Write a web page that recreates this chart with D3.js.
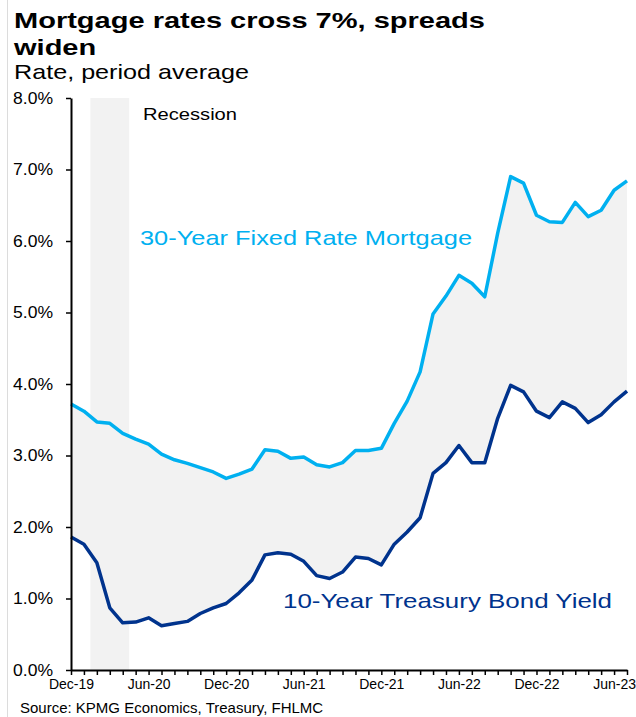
<!DOCTYPE html>
<html>
<head>
<meta charset="utf-8">
<script src="https://cdn.jsdelivr.net/npm/d3@7"></script>
<style>
  html, body { margin: 0; padding: 0; background: #fff; }
  svg { display: block; font-family: "Liberation Sans", Arial, sans-serif; }
</style>
</head>
<body>
<svg id="chart" width="636" height="717"></svg>
<script>
// Monthly periods, Dec 2019 – Jul 2023
const months = [
  "Dec-19","Jan-20","Feb-20","Mar-20","Apr-20","May-20","Jun-20","Jul-20","Aug-20","Sep-20","Oct-20","Nov-20",
  "Dec-20","Jan-21","Feb-21","Mar-21","Apr-21","May-21","Jun-21","Jul-21","Aug-21","Sep-21","Oct-21","Nov-21",
  "Dec-21","Jan-22","Feb-22","Mar-22","Apr-22","May-22","Jun-22","Jul-22","Aug-22","Sep-22","Oct-22","Nov-22",
  "Dec-22","Jan-23","Feb-23","Mar-23","Apr-23","May-23","Jun-23","Jul-23"
];

// 30-year fixed rate mortgage, monthly average (%)
const mortgage30 = [
  3.72, 3.62, 3.47, 3.45, 3.31, 3.23, 3.16, 3.02, 2.94, 2.89, 2.83, 2.77,
  2.68, 2.74, 2.81, 3.08, 3.06, 2.96, 2.98, 2.87, 2.84, 2.90, 3.07, 3.07,
  3.10, 3.45, 3.76, 4.17, 4.98, 5.23, 5.52, 5.41, 5.22, 6.11, 6.90, 6.81,
  6.36, 6.27, 6.26, 6.54, 6.34, 6.43, 6.71, 6.84
];

// 10-year Treasury bond yield, monthly average (%)
const treasury10 = [
  1.86, 1.76, 1.50, 0.87, 0.66, 0.67, 0.73, 0.62, 0.65, 0.68, 0.79, 0.87,
  0.93, 1.08, 1.26, 1.61, 1.64, 1.62, 1.52, 1.32, 1.28, 1.37, 1.58, 1.56,
  1.47, 1.76, 1.93, 2.13, 2.75, 2.90, 3.14, 2.90, 2.90, 3.52, 3.98, 3.89,
  3.62, 3.53, 3.75, 3.66, 3.46, 3.57, 3.75, 3.90
];

const xTickLabels = ["Dec-19","Jun-20","Dec-20","Jun-21","Dec-21","Jun-22","Dec-22","Jun-23"];
const yTicks = [0, 1, 2, 3, 4, 5, 6, 7, 8];
const recession = ["Feb-20", "Apr-20"];

const svg = d3.select("#chart");
const plot = { left: 71, right: 627, top: 98, bottom: 670 };

const x = d3.scalePoint().domain(months).range([plot.left, plot.right]);
const y = d3.scaleLinear().domain([0, 8]).range([plot.bottom, plot.top]);

const rows = months.map((m, i) => ({ m, mort: mortgage30[i], tsy: treasury10[i] }));

// wide text: set its rendered width exactly
function fit(sel, width) {
  return sel.attr("textLength", width).attr("lengthAdjust", "spacingAndGlyphs");
}

// thin frame line on the left edge
svg.append("line")
  .attr("x1", 7.5).attr("x2", 7.5).attr("y1", 0).attr("y2", 717)
  .attr("stroke", "#dcdcdc").attr("stroke-width", 1);

// Titles (bold heading drawn in a horizontally widened face)
const titleLines = ["Mortgage rates cross 7%, spreads", "widen"];
const titleG = svg.append("g");
const t1 = titleG.append("text").attr("x", 0).attr("y", 0)
  .attr("font-size", 22).attr("font-weight", "bold").attr("fill", "#000")
  .text(titleLines[0]);
const widen = 471 / t1.node().getComputedTextLength();
titleG.append("text").attr("x", 0).attr("y", 27)
  .attr("font-size", 22).attr("font-weight", "bold").attr("fill", "#000")
  .text(titleLines[1]);
titleG.attr("transform", `translate(14,28) scale(${widen},1)`);

fit(svg.append("text").attr("x", 14).attr("y", 79)
  .attr("font-size", 21).attr("fill", "#000")
  .text("Rate, period average"), 235);

// Recession shading
const step = x.step();
svg.append("rect")
  .attr("x", x(recession[0]) - step / 2)
  .attr("width", x(recession[1]) - x(recession[0]) + step)
  .attr("y", y(8))
  .attr("height", y(0) - y(8))
  .attr("fill", "#f2f2f2");

fit(svg.append("text").attr("x", 143).attr("y", 120)
  .attr("font-size", 17).attr("fill", "#000").text("Recession"), 94);

// Spread between the two rates
svg.append("path").datum(rows)
  .attr("fill", "#f2f2f2")
  .attr("d", d3.area().x(d => x(d.m)).y0(d => y(d.tsy)).y1(d => y(d.mort)));

// Series lines
svg.append("path").datum(rows)
  .attr("fill", "none").attr("stroke", "#00b0f0").attr("stroke-width", 3.5)
  .attr("stroke-linejoin", "round")
  .attr("d", d3.line().x(d => x(d.m)).y(d => y(d.mort)));

svg.append("path").datum(rows)
  .attr("fill", "none").attr("stroke", "#00338d").attr("stroke-width", 3.5)
  .attr("stroke-linejoin", "round")
  .attr("d", d3.line().x(d => x(d.m)).y(d => y(d.tsy)));

// Series labels
fit(svg.append("text").attr("x", 140).attr("y", 245)
  .attr("font-size", 21).attr("fill", "#00b0f0").text("30-Year Fixed Rate Mortgage"), 332);
fit(svg.append("text").attr("x", 283).attr("y", 608)
  .attr("font-size", 21).attr("fill", "#00338d").text("10-Year Treasury Bond Yield"), 329);

// Axes
const yAxis = svg.append("g")
  .attr("transform", `translate(${plot.left},0)`)
  .call(d3.axisLeft(y).tickValues(yTicks).tickFormat(d => d.toFixed(1) + "%").tickSize(5).tickSizeOuter(0));
yAxis.select(".domain").attr("stroke", "#000").attr("stroke-width", 2);
yAxis.selectAll(".tick line").attr("stroke", "#000").attr("stroke-width", 1.5);
yAxis.selectAll(".tick text").attr("font-size", 16).attr("fill", "#000")
  .attr("font-family", "Liberation Sans, Arial, sans-serif").attr("x", -18)
  .attr("textLength", 40).attr("lengthAdjust", "spacingAndGlyphs");

const xAxis = svg.append("g")
  .attr("transform", `translate(0,${plot.bottom})`)
  .call(d3.axisBottom(x).tickFormat(d => xTickLabels.includes(d) ? d : "").tickSize(5).tickSizeOuter(0));
xAxis.select(".domain").attr("stroke", "#000").attr("stroke-width", 2);
xAxis.selectAll(".tick line").attr("stroke", "#000").attr("stroke-width", 1.5);
xAxis.selectAll(".tick text").attr("font-size", 14).attr("fill", "#000")
  .attr("font-family", "Liberation Sans, Arial, sans-serif").attr("y", 9);

// Source note
svg.append("text").attr("x", 20).attr("y", 713)
  .attr("font-size", 15).attr("fill", "#000")
  .text("Source: KPMG Economics, Treasury, FHLMC");
</script>
</body>
</html>
